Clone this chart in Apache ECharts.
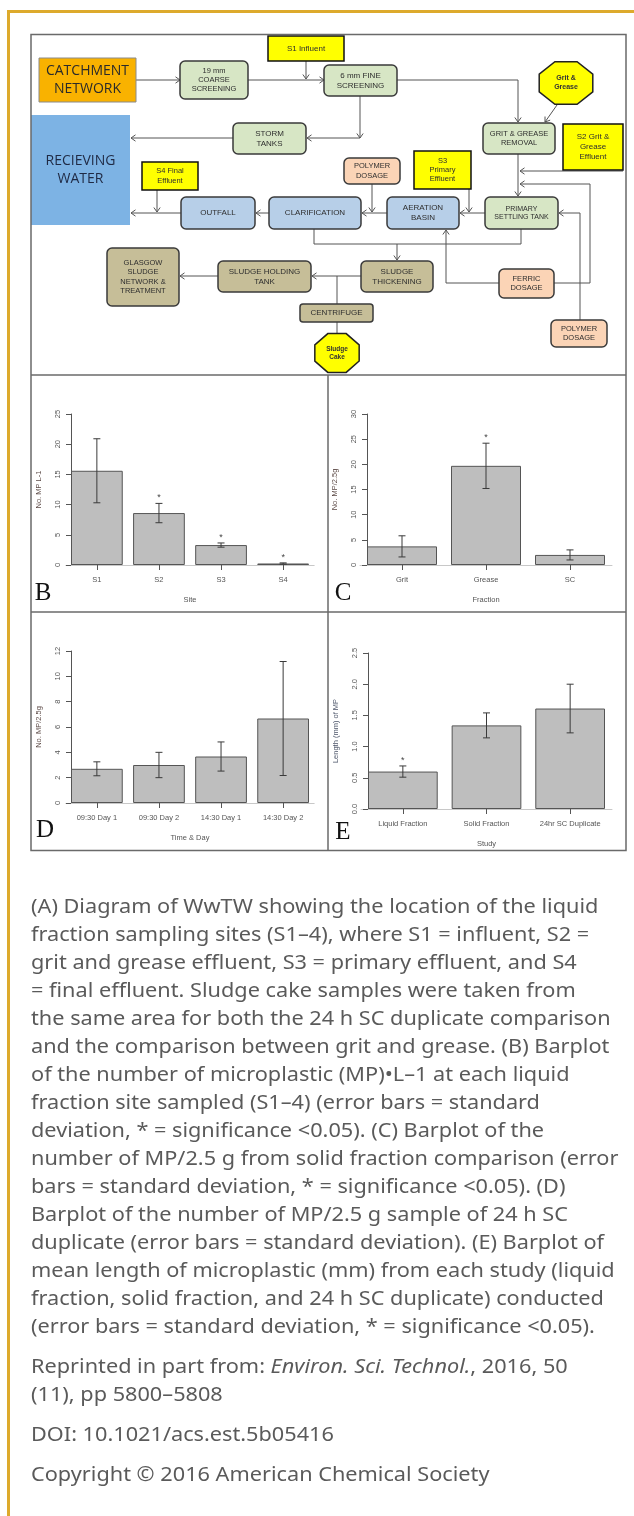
<!DOCTYPE html>
<html><head><meta charset="utf-8">
<script src="https://cdn.jsdelivr.net/npm/echarts@6/dist/echarts.min.js"></script>
<style>html,body{margin:0;padding:0;background:#fff}#c{width:634px;height:1516px}</style>
</head><body><div id="c"></div>
<script>
// ---------------- DATA ----------------
const sitesB = ['S1', 'S2', 'S3', 'S4'];
const meanB = [15.6, 8.6, 3.3, 0.25];
const sdB = [5.3, 1.6, 0.35, 0.1];
const sigB = [0, 1, 1, 1];

const fractionsC = ['Grit', 'Grease', 'SC'];
const meanC = [3.7, 19.7, 2.0];
const sdC = [2.1, 4.5, 1.0];
const sigC = [0, 1, 0];

const timesD = ['09:30 Day 1', '09:30 Day 2', '14:30 Day 1', '14:30 Day 2'];
const meanD = [2.7, 3.0, 3.67, 6.67];
const sdD = [0.55, 1.0, 1.15, 4.5];
const sigD = [0, 0, 0, 0];

const studiesE = ['Liquid Fraction', 'Solid Fraction', '24hr SC Duplicate'];
const meanE = [0.6, 1.34, 1.61];
const sdE = [0.09, 0.2, 0.39];
const sigE = [1, 0, 0];

const yMaxes = [25, 30, 12, 2.5];
const yIntervals = [5, 5, 2, 0.5];
const yNames = ['No. MP L-1', 'No. MP/2.5g', 'No. MP/2.5g', 'Length (mm) of MP'];
const xNames = ['Site', 'Fraction', 'Time & Day', 'Study'];
const panelLetters = ['B', 'C', 'D', 'E'];

const diagramLabels = {
  catchment: 'CATCHMENT\nNETWORK', coarse: '19 mm\nCOARSE\nSCREENING', s1: 'S1 Influent',
  fine: '6 mm FINE\nSCREENING', gritOct: 'Grit &\nGrease', gritRem: 'GRIT & GREASE\nREMOVAL',
  s2: 'S2 Grit &\nGrease\nEffluent', storm: 'STORM\nTANKS', recv: 'RECIEVING\nWATER',
  s4: 'S4 Final\nEffluent', poly1: 'POLYMER\nDOSAGE', s3: 'S3\nPrimary\nEffluent',
  outfall: 'OUTFALL', clar: 'CLARIFICATION', aer: 'AERATION\nBASIN', prim: 'PRIMARY\nSETTLING TANK',
  glasgow: 'GLASGOW\nSLUDGE\nNETWORK &\nTREATMENT', holding: 'SLUDGE HOLDING\nTANK',
  thick: 'SLUDGE\nTHICKENING', ferric: 'FERRIC\nDOSAGE', centri: 'CENTRIFUGE',
  cake: 'Sludge\nCake', poly2: 'POLYMER\nDOSAGE'
};

const captionLines = [
  '(A) Diagram of WwTW showing the location of the liquid',
  'fraction sampling sites (S1\u20134), where S1 = influent, S2 =',
  'grit and grease effluent, S3 = primary effluent, and S4',
  '= final effluent. Sludge cake samples were taken from',
  'the same area for both the 24 h SC duplicate comparison',
  'and the comparison between grit and grease. (B) Barplot',
  'of the number of microplastic (MP)\u2022L\u20131 at each liquid',
  'fraction site sampled (S1\u20134) (error bars = standard',
  'deviation, * = significance <0.05). (C) Barplot of the',
  'number of MP/2.5 g from solid fraction comparison (error',
  'bars = standard deviation, * = significance <0.05). (D)',
  'Barplot of the number of MP/2.5 g sample of 24 h SC',
  'duplicate (error bars = standard deviation). (E) Barplot of',
  'mean length of microplastic (mm) from each study (liquid',
  'fraction, solid fraction, and 24 h SC duplicate) conducted',
  '(error bars = standard deviation, * = significance <0.05).'
];
const creditLines = [
  'Reprinted in part from: {i|Environ. Sci. Technol.}, 2016, 50',
  '(11), pp 5800\u20135808',
  'DOI: 10.1021/acs.est.5b05416',
  'Copyright \u00a9 2016 American Chemical Society'
];

// ---------------- LAYOUT ----------------
const W = 634, H = 1516;
const panelBoxes = [
  {left: 71, right: 309, top: 414, bottom: 565, n: 4},
  {left: 367, right: 605, top: 414, bottom: 565, n: 3},
  {left: 71, right: 309, top: 651, bottom: 803, n: 4},
  {left: 368, right: 605, top: 653, bottom: 809, n: 3}
];
const letterPos = [[43, 593], [343, 593], [45, 830], [343, 832]];
const panelData = [
  {cats: sitesB, mean: meanB, sd: sdB, sig: sigB},
  {cats: fractionsC, mean: meanC, sd: sdC, sig: sigC},
  {cats: timesD, mean: meanD, sd: sdD, sig: sigD},
  {cats: studiesE, mean: meanE, sd: sdE, sig: sigE}
];

const axisColor = '#555';
const tickFont = 'Liberation Sans';
const grids = [], xAxes = [], yAxes = [], series = [];

panelBoxes.forEach((p, gi) => {
  const span = 1.2 * p.n - 0.2;
  const unit = (p.right - p.left) / span;
  const gLeft = p.left - 0.1 * unit;
  grids.push({left: gLeft, top: p.top, width: 1.2 * unit * p.n, height: p.bottom - p.top, outerBoundsMode: 'none', containLabel: false});
  const d = panelData[gi];
  xAxes.push({
    type: 'category', gridIndex: gi, data: d.cats,
    axisLine: {show: true, lineStyle: {color: '#c8c8c8', width: 1}},
    axisTick: {show: true, alignWithLabel: true, length: 5, lineStyle: {color: axisColor}},
    axisLabel: {interval: 0, fontSize: 7.5, color: '#555', margin: 11, fontFamily: tickFont},
    splitLine: {show: false},
    name: xNames[gi], nameLocation: 'middle', nameGap: 31,
    nameTextStyle: {fontSize: 7.5, color: '#555', fontFamily: tickFont}
  });
  yAxes.push({
    type: 'value', gridIndex: gi, min: 0, max: yMaxes[gi], interval: yIntervals[gi],
    offset: -0.1 * unit,
    axisLine: {show: true, lineStyle: {color: axisColor, width: 1}},
    axisTick: {show: true, length: 5, lineStyle: {color: axisColor}},
    axisLabel: {rotate: 90, fontSize: 7.5, color: '#555', margin: 9, fontFamily: tickFont,
      formatter: v => (yIntervals[gi] < 1 ? v.toFixed(1) : String(v))},
    splitLine: {show: false},
    name: yNames[gi], nameLocation: 'middle', nameGap: 28,
    nameTextStyle: {fontSize: 7.5, color: gi === 3 ? '#4b5468' : '#5c4a46', fontFamily: tickFont}
  });
  series.push({
    type: 'bar', xAxisIndex: gi, yAxisIndex: gi, data: d.mean, barWidth: (100 / 1.2) + '%',
    itemStyle: {color: '#bebebe', borderColor: '#555', borderWidth: 1}, silent: true, animation: false
  });
  series.push({
    type: 'custom', xAxisIndex: gi, yAxisIndex: gi, silent: true, animation: false, z: 5,
    data: d.mean.map((m, i) => [i, m - d.sd[i], m + d.sd[i], d.sig[i]]),
    renderItem: (params, api) => {
      const i = api.value(0);
      const lo = api.coord([i, api.value(1)]);
      const hi = api.coord([i, api.value(2)]);
      const hw = 3.5;
      const st = {stroke: '#3a3a3a', lineWidth: 1};
      const ch = [
        {type: 'line', shape: {x1: lo[0], y1: lo[1], x2: hi[0], y2: hi[1]}, style: st},
        {type: 'line', shape: {x1: lo[0] - hw, y1: lo[1], x2: lo[0] + hw, y2: lo[1]}, style: st},
        {type: 'line', shape: {x1: hi[0] - hw, y1: hi[1], x2: hi[0] + hw, y2: hi[1]}, style: st}
      ];
      if (api.value(3)) {
        ch.push({type: 'text', style: {text: '*', x: hi[0], y: hi[1] - 1, align: 'center', verticalAlign: 'bottom',
          fontSize: 9, fontFamily: tickFont, fill: '#444'}});
      }
      return {type: 'group', children: ch};
    }
  });
});

// ---------------- GRAPHIC: diagram, frames, caption ----------------
const G = [];
const COL = {
  orange: '#f9b200', green: '#d7e6c5', blue: '#b7cfe8', khaki: '#c6be98', peach: '#fbd4b6',
  yellow: '#ffff00', water: '#7db3e4'
};
const diagFont = 'Liberation Sans';

function box(key, x1, y1, x2, y2, fill, o) {
  o = o || {};
  G.push({type: 'rect', shape: {x: x1, y: y1, width: x2 - x1, height: y2 - y1, r: o.r === undefined ? 5 : o.r},
    style: {fill: fill, stroke: o.stroke || '#3a3a3a', lineWidth: o.lw === undefined ? 1.5 : o.lw}, z: 10});
  G.push({type: 'text', x: (x1 + x2) / 2, y: (y1 + y2) / 2, z: 11,
    style: {text: diagramLabels[key], align: 'center', verticalAlign: 'middle',
      fontSize: o.fs || 7.5, fontFamily: o.ff || diagFont, fontWeight: o.fw || 'normal',
      fill: o.color || '#2e2e2e', lineHeight: o.lh || (o.fs || 7.5) * 1.25}});
}
function octagon(key, cx, cy, rx, ry, o) {
  const pts = [];
  for (let k = 0; k < 8; k++) {
    const a = Math.PI / 8 + k * Math.PI / 4;
    pts.push([cx + rx * Math.cos(a), cy + ry * Math.sin(a)]);
  }
  G.push({type: 'polygon', shape: {points: pts}, style: {fill: COL.yellow, stroke: '#222', lineWidth: 1.5}, z: 10});
  G.push({type: 'text', x: cx, y: cy, z: 11,
    style: {text: diagramLabels[key], align: 'center', verticalAlign: 'middle', fontSize: o.fs,
      fontFamily: diagFont, fontWeight: 'bold', fill: '#333', lineHeight: o.fs * 1.3}});
}
function chevron(p, q, s) {
  const dx = q[0] - p[0], dy = q[1] - p[1];
  const L = Math.hypot(dx, dy) || 1;
  const ux = dx / L, uy = dy / L, nx = -uy, ny = ux;
  G.push({type: 'polyline', z: 9, shape: {points: [
    [q[0] - ux * s + nx * s * 0.7, q[1] - uy * s + ny * s * 0.7], [q[0], q[1]],
    [q[0] - ux * s - nx * s * 0.7, q[1] - uy * s - ny * s * 0.7]]},
    style: {stroke: '#555', lineWidth: 1, fill: null}});
}
function conn(points, arrow) {
  G.push({type: 'polyline', z: 9, shape: {points: points}, style: {stroke: '#555', lineWidth: 1, fill: null}});
  if (arrow !== false) chevron(points[points.length - 2], points[points.length - 1], 4.5);
}

// frames
G.push({type: 'line', shape: {x1: 8.5, y1: 10, x2: 8.5, y2: H}, style: {stroke: '#ddaa2c', lineWidth: 3}, z: 1});
G.push({type: 'line', shape: {x1: 7, y1: 11.5, x2: W, y2: 11.5}, style: {stroke: '#ddaa2c', lineWidth: 3}, z: 1});
G.push({type: 'rect', shape: {x: 31, y: 34.5, width: 595, height: 816}, style: {fill: null, stroke: '#6a6a6a', lineWidth: 1.5}, z: 20});
G.push({type: 'line', shape: {x1: 31, y1: 375, x2: 626, y2: 375}, style: {stroke: '#6a6a6a', lineWidth: 1.5}, z: 20});
G.push({type: 'line', shape: {x1: 31, y1: 612, x2: 626, y2: 612}, style: {stroke: '#6a6a6a', lineWidth: 1.5}, z: 20});
G.push({type: 'line', shape: {x1: 328, y1: 375, x2: 328, y2: 851}, style: {stroke: '#6a6a6a', lineWidth: 1.5}, z: 20});

// connectors
conn([[136, 80], [180, 80]]);
conn([[248, 80], [324, 80]]);
conn([[306, 61], [306, 79]]);
conn([[397, 80], [518, 80], [518, 122]]);
conn([[557, 105], [545, 122]]);
conn([[360, 96], [360, 138]]);
conn([[360, 138], [307, 138]]);
conn([[233, 138], [131, 138]]);
conn([[518, 154], [518, 196]]);
conn([[623, 171], [520, 171]]);
conn([[554, 283], [590, 283], [590, 184], [520, 184]]);
conn([[580, 320], [580, 213], [559, 213]]);
conn([[485, 213], [460, 213]]);
conn([[469, 189], [469, 212]]);
conn([[387, 213], [362, 213]]);
conn([[372, 184], [372, 212]]);
conn([[269, 213], [256, 213]]);
conn([[181, 213], [131, 213]]);
conn([[157, 190], [157, 212]]);
conn([[314, 229], [314, 244], [521, 244], [521, 229]], false);
conn([[397, 244], [397, 260]]);
conn([[361, 276], [312, 276]]);
conn([[218, 276], [180, 276]]);
conn([[337, 276], [337, 304]], false);
conn([[337, 322], [337, 333]], false);
conn([[499, 283], [446, 283], [446, 230]]);

// boxes
box('catchment', 39, 58, 136, 102, COL.orange, {r: 0, stroke: '#8a8a8a', lw: 1, fs: 14, color: '#2a2a2a', ff: 'Open Sans', lh: 18});
box('coarse', 180, 61, 248, 99, COL.green, {fs: 7.5});
box('s1', 268, 36, 344, 61, COL.yellow, {r: 0, stroke: '#111', fs: 8});
box('fine', 324, 65, 397, 96, COL.green, {fs: 8});
octagon('gritOct', 566, 83, 29, 23, {fs: 7});
box('gritRem', 483, 123, 555, 154, COL.green, {fs: 7.5});
box('s2', 563, 124, 623, 170, COL.yellow, {r: 0, stroke: '#111', fs: 8});
box('storm', 233, 123, 306, 154, COL.green, {fs: 8});
box('recv', 31, 115, 130, 225, COL.water, {r: 0, stroke: COL.water, lw: 0, fs: 14, color: '#1f2a44', ff: 'Open Sans', lh: 18});
box('s4', 142, 162, 198, 190, COL.yellow, {r: 0, stroke: '#111', fs: 7.5});
box('poly1', 344, 158, 400, 184, COL.peach, {fs: 7.5});
box('s3', 414, 151, 471, 189, COL.yellow, {r: 0, stroke: '#111', fs: 7.5});
box('outfall', 181, 197, 255, 229, COL.blue, {fs: 8});
box('clar', 269, 197, 361, 229, COL.blue, {fs: 8});
box('aer', 387, 197, 459, 229, COL.blue, {fs: 8});
box('prim', 485, 197, 558, 229, COL.green, {fs: 7});
box('glasgow', 107, 248, 179, 306, COL.khaki, {fs: 7.5});
box('holding', 218, 261, 311, 292, COL.khaki, {fs: 8});
box('thick', 361, 261, 433, 292, COL.khaki, {fs: 8});
box('ferric', 499, 269, 554, 298, COL.peach, {fs: 7.5});
box('centri', 300, 304, 373, 322, COL.khaki, {fs: 8, r: 3});
octagon('cake', 337, 353, 24, 21, {fs: 6.5});
box('poly2', 551, 320, 607, 347, COL.peach, {fs: 7.5});

// panel letters
panelLetters.forEach((t, i) => {
  G.push({type: 'text', x: letterPos[i][0], y: letterPos[i][1], z: 20,
    style: {text: t, align: 'center', verticalAlign: 'middle', fontSize: 25, fontFamily: 'Liberation Serif', fill: '#111'}});
});

// caption
const capFont = 'Noto Sans', capSize = 20, capColor = '#5a5a5a', capStretch = 1.085;
captionLines.forEach((t, i) => {
  G.push({type: 'text', x: 31, y: 907 + 28 * i, z: 20, scaleX: capStretch,
    style: {text: t, align: 'left', verticalAlign: 'middle', fontSize: capSize, fontFamily: capFont, fill: capColor}});
});
const creditY = [1367, 1395, 1435, 1475];
creditLines.forEach((t, i) => {
  G.push({type: 'text', x: 31, y: creditY[i], z: 20, scaleX: capStretch,
    style: {text: t, align: 'left', verticalAlign: 'middle', fontSize: capSize, fontFamily: capFont, fill: capColor,
      rich: {i: {fontStyle: 'italic', fontSize: capSize, fontFamily: capFont, fill: capColor}}}});
});

const chart = echarts.init(document.getElementById('c'), null, {renderer: 'canvas', width: W, height: H});
chart.setOption({
  animation: false,
  backgroundColor: '#ffffff',
  grid: grids, xAxis: xAxes, yAxis: yAxes, series: series,
  graphic: {elements: G}
});
</script></body></html>
